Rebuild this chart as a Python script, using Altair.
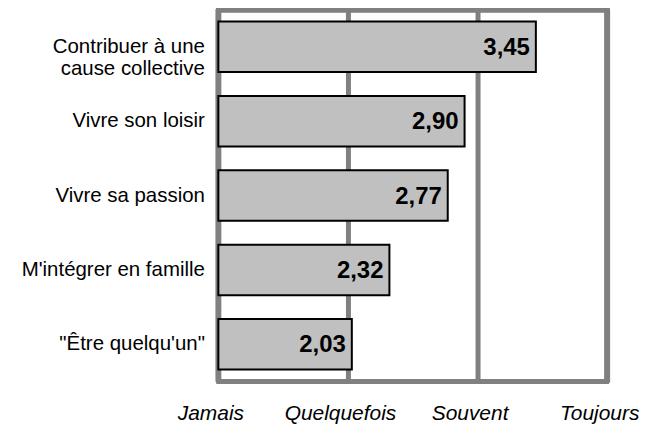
import json
import altair as alt
import pandas as pd

categories = ["Contribuer à une|cause collective", "Vivre son loisir", "Vivre sa passion",
              "M'intégrer en famille", "\"Être quelqu'un\""]
values = [3.45, 2.90, 2.77, 2.32, 2.03]
tick_values = [1, 2, 3, 4]
tick_labels = ["Jamais", "Quelquefois", "Souvent", "Toujours"]

df = pd.DataFrame({
    "cat": categories,
    "value": values,
    "label": [f"{v:.2f}".replace(".", ",") for v in values],
})

FONT = "Liberation Sans"
W, H = 390, 373

y_enc = alt.Y(
    "cat:N",
    sort=categories,
    scale=alt.Scale(paddingInner=0.32, paddingOuter=0.16),
    axis=alt.Axis(
        title=None, domain=False, ticks=False, labelFont=FONT, labelFontSize=20.5,
        labelColor="black", labelPadding=14, labelLineHeight=22,
        labelExpr="split(datum.label, '|')", labelLimit=300,
    ),
)

x_scale = alt.Scale(domain=[1, 4], nice=False, zero=False)

frame = alt.Chart(df).mark_rect(
    filled=False, stroke="#808080", strokeWidth=5, strokeJoin="round"
).encode(
    x=alt.datum(1),
    x2=alt.datum(4),
    y=alt.value(0),
    y2=alt.value(H),
)

bars = alt.Chart(df).mark_bar(color="#c0c0c0", stroke="black", strokeWidth=2).encode(
    x=alt.X(
        "value:Q",
        scale=x_scale,
        axis=alt.Axis(
            values=tick_values, title=None, domain=False, ticks=False,
            grid=True, gridColor="#808080", gridWidth=5, gridOpacity=1,
            labelExpr=json.dumps(tick_labels) + "[datum.value - 1]",
            labelFont=FONT, labelFontStyle="italic", labelFontSize=21,
            labelColor="black", labelPadding=21, labelFlush=False, labelOffset=-8,
        ),
    ),
    x2=alt.datum(1),
    y=y_enc,
)

texts = alt.Chart(df).mark_text(
    align="right", baseline="middle", dx=-6, dy=1, font=FONT,
    fontWeight="bold", fontSize=24, color="black",
).encode(
    x=alt.X("value:Q", scale=x_scale),
    y=alt.Y("cat:N", sort=categories),
    text="label:N",
)

chart = alt.layer(frame, bars, texts).properties(
    width=W,
    height=H,
    autosize="none",
    padding={"left": 211, "top": 1, "right": 45, "bottom": 42},
).configure_view(
    stroke=None,
).configure(background="white")

chart.save("out.html", embed_options={"renderer": "svg", "actions": False})
